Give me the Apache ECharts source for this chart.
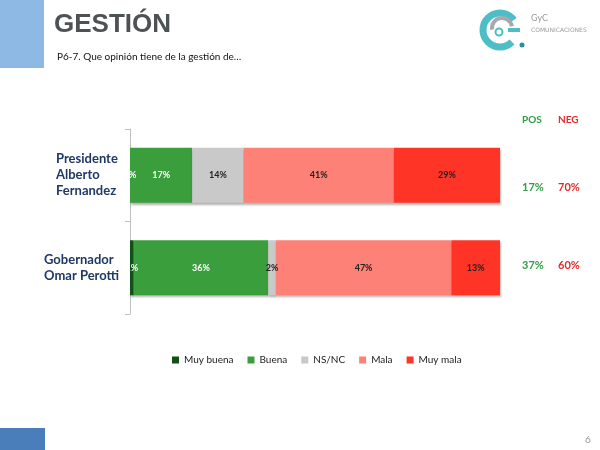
<!DOCTYPE html>
<html>
<head>
<meta charset="utf-8">
<script src="https://cdn.jsdelivr.net/npm/echarts@6/dist/echarts.min.js"></script>
<style>
  html, body { margin: 0; padding: 0; background: #fff; }
  #main { width: 600px; height: 450px; }
</style>
</head>
<body>
<div id="main"></div>
<script>
// ===== 数据 =====
const categories = ["Presidente\nAlberto\nFernandez", "Gobernador\nOmar Perotti"];
const seriesNames = ["Muy buena", "Buena", "NS/NC", "Mala", "Muy mala"];
const muyBuena = [0, 1];
const buena = [17, 36];
const nsnc = [14, 2];
const mala = [41, 47];
const muyMala = [29, 13];
const posVals = [17, 37];
const negVals = [70, 60];

const colors = ["#12501a", "#3a9e3c", "#c9c9c9", "#fd8176", "#fe3426"];
const labelColors = ["#fff", "#fff", "#222", "#222", "#222"];

// 100% apilado: cada fila se normaliza a su total
const rows = [muyBuena, buena, nsnc, mala, muyMala];
const totals = categories.map((_, i) => rows.reduce((s, r) => s + r[i], 0));

const chart = echarts.init(document.getElementById("main"));

const series = rows.map((r, k) => ({
    name: seriesNames[k],
    type: "bar",
    stack: "total",
    barWidth: 55,
    data: r.map((v, i) => ({ value: v / totals[i] * 100, raw: v })),
    itemStyle: {
        color: colors[k],
        shadowColor: "rgba(0,0,0,0.3)",
        shadowBlur: 2,
        shadowOffsetX: 1,
        shadowOffsetY: 2
    },
    label: {
        show: true,
        position: "inside",
        formatter: p => p.data.raw + "%",
        color: labelColors[k],
        fontFamily: "Lato",
        fontWeight: "bold",
        fontSize: 9
    }
}));

const posNegText = [];
const rowY = [189, 267];
posNegText.push(
    { type: "text", left: 522, top: 115, style: { text: "POS", fill: "#2e9e44", font: "bold 10px Lato" } },
    { type: "text", left: 558, top: 115, style: { text: "NEG", fill: "#e8282a", font: "bold 10px Lato" } }
);
posVals.forEach((v, i) => {
    posNegText.push({ type: "text", left: 522, top: rowY[i] - 7, style: { text: v + "%", fill: "#2e9e44", font: "bold 11px Lato" } });
    posNegText.push({ type: "text", left: 558, top: rowY[i] - 7, style: { text: negVals[i] + "%", fill: "#e8282a", font: "bold 11px Lato" } });
});

chart.setOption({
    animation: false,
    title: [{
        text: "GESTIÓN",
        left: 49,
        top: 7,
        textStyle: { fontFamily: "Liberation Sans", fontWeight: "bold", fontSize: 26, color: "#4d5354" }
    }, {
        text: "P6-7. Que opinión tiene de la gestión de…",
        left: 52,
        top: 47,
        textStyle: { fontFamily: "Lato", fontWeight: "normal", fontSize: 10, color: "#111" }
    }],
    legend: {
        data: seriesNames,
        top: 350,
        left: 167,
        icon: "rect",
        itemWidth: 7,
        itemHeight: 7,
        itemGap: 14,
        textStyle: { fontFamily: "Lato", fontSize: 10, color: "#222" }
    },
    grid: { left: 130, right: 100, top: 129, bottom: 136 },
    xAxis: {
        type: "value",
        min: 0,
        max: 100,
        show: false
    },
    yAxis: {
        type: "category",
        inverse: true,
        data: categories,
        axisLine: { show: true, lineStyle: { color: "#bfbfbf" } },
        axisTick: { show: true, length: 5, lineStyle: { color: "#bfbfbf" } },
        axisLabel: {
            margin: 12,
            formatter: (v, i) => v.split("\n").map(l => `{${i === 0 ? "p" : "g"}|${l}}`).join("\n"),
            rich: {
                p: { width: 62, align: "left", fontFamily: "Lato", fontWeight: "bold", fontSize: 13, lineHeight: 16, color: "#1f3864" },
                g: { width: 74, align: "left", fontFamily: "Lato", fontWeight: "bold", fontSize: 13, lineHeight: 16, color: "#1f3864" }
            }
        }
    },
    graphic: [
        // barras azules de la plantilla
        { type: "rect", shape: { x: 0, y: 0, width: 44, height: 68 }, style: { fill: "#8db9e4" } },
        { type: "rect", shape: { x: 0, y: 428, width: 45, height: 22 }, style: { fill: "#4a7ebb" } },
        { type: "text", left: 585, top: 435, style: { text: "6", fill: "#999", font: "10px Lato" } },
        // logo GyC (aproximado)
        { type: "arc", shape: { cx: 500, cy: 30, r: 17, startAngle: Math.PI * 0.25, endAngle: Math.PI * 1.8 }, style: { stroke: "#4dbdc6", lineWidth: 7, fill: null } },
        { type: "arc", shape: { cx: 502, cy: 28, r: 10, startAngle: Math.PI * 0.95, endAngle: Math.PI * 1.95 }, style: { stroke: "#a7a9ac", lineWidth: 4, fill: null } },
        { type: "circle", shape: { cx: 499, cy: 32, r: 3.5 }, style: { stroke: "#4dbdc6", lineWidth: 2, fill: "#fff" } },
        { type: "rect", shape: { x: 508, y: 28, width: 12, height: 4 }, style: { fill: "#4dbdc6" } },
        { type: "circle", shape: { cx: 522, cy: 45, r: 2.5 }, style: { fill: "#2a8fa0" } },
        { type: "text", left: 531, top: 14, style: { text: "GyC", fill: "#9a9c9f", font: "9px Lato" } },
        { type: "text", left: 531, top: 27, style: { text: "COMUNICACIONES", fill: "#9a9c9f", font: "6px 'DejaVu Sans'" } }
    ].concat(posNegText),
    series
});
</script>
</body>
</html>
